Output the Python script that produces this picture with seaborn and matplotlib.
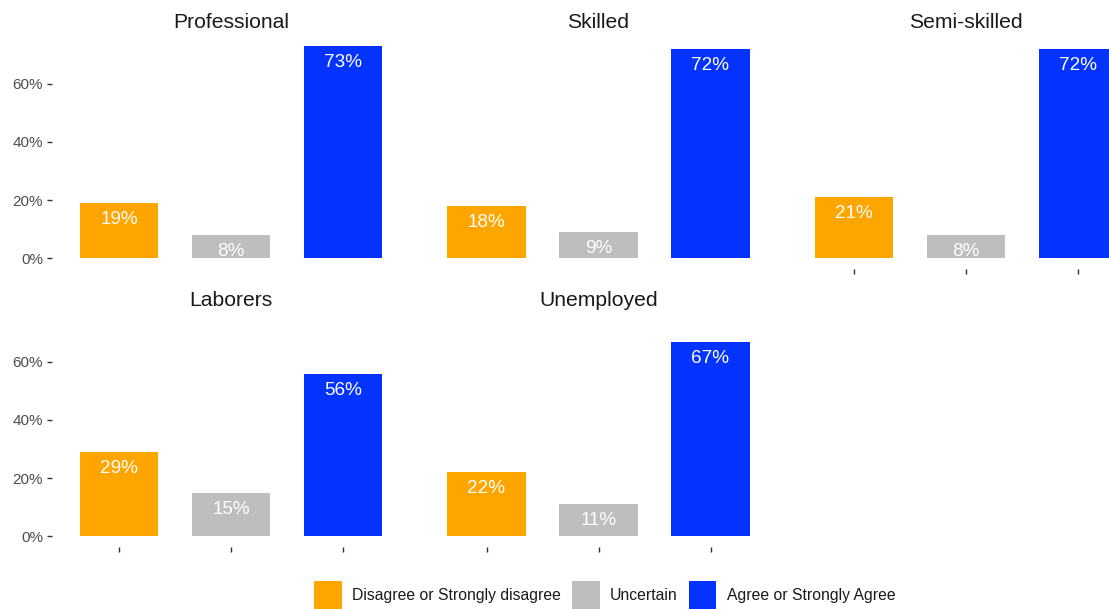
import matplotlib
matplotlib.use("Agg")
import matplotlib.pyplot as plt
from matplotlib.patches import Patch
import seaborn as sns
import pandas as pd

# Survey answers by occupational group (percent of respondents)
occupations = ["Professional", "Skilled", "Semi-skilled", "Laborers", "Unemployed"]
responses = ["Disagree or Strongly disagree", "Uncertain", "Agree or Strongly Agree"]
disagree = [19, 18, 21, 29, 22]
uncertain = [8, 9, 8, 15, 11]
agree = [73, 72, 72, 56, 67]
y_ticks = [0, 20, 40, 60]
y_tick_labels = ["0%", "20%", "40%", "60%"]

colors = {
    "Disagree or Strongly disagree": "#FFA500",
    "Uncertain": "#BEBEBE",
    "Agree or Strongly Agree": "#0433FF",
}

rows = []
for occ, d, u, a in zip(occupations, disagree, uncertain, agree):
    for resp, v in zip(responses, (d, u, a)):
        rows.append({"occupation": occ, "response": resp, "pct": v})
df = pd.DataFrame(rows)

sns.set_theme(style="white")
plt.rcParams["font.family"] = ["Liberation Sans", "DejaVu Sans"]

W, H = 1109, 609
fig = plt.figure(figsize=(W / 100, H / 100), dpi=100)
fig.patch.set_facecolor("white")

# facet grid geometry (pixels)
panel_w = 358.4
panel_h = 232.9
col_left = [51.8, 419.3, 786.8]
row_top = [35.7, 313.7]
ncol = 3

ymax = df["pct"].max()
ylim = (-0.05 * ymax, 1.05 * ymax)

for i, occ in enumerate(occupations):
    r, c = divmod(i, ncol)
    ax = fig.add_axes([
        col_left[c] / W,
        1 - (row_top[r] + panel_h) / H,
        panel_w / W,
        panel_h / H,
    ])
    sub = df[df["occupation"] == occ]
    sns.barplot(
        data=sub, x="response", y="pct", hue="response", order=responses,
        hue_order=responses, palette=colors, width=0.7, errorbar=None,
        saturation=1, linewidth=0, legend=False, ax=ax,
    )
    ax.set_xlim(-0.6, 2.6)
    ax.set_ylim(*ylim)
    ax.set_xlabel("")
    ax.set_ylabel("")
    for s in ax.spines.values():
        s.set_visible(False)
    ax.set_facecolor("white")

    # value labels inside the bars
    for j, resp in enumerate(responses):
        v = sub.loc[sub["response"] == resp, "pct"].iloc[0]
        ax.annotate(f"{v}%", (j, v), xytext=(0, -5.8), textcoords="offset points",
                    ha="center", va="top", color="white", fontsize=13.6)

    ax.set_title(occ, fontsize=15.2, color="#1A1A1A", pad=5.6)

    # y axis only on the first column
    ax.set_yticks(y_ticks)
    if c == 0:
        ax.set_yticklabels(y_tick_labels)
        ax.tick_params(axis="y", left=True, length=3.4, width=1.0, color="#333333",
                       labelsize=11, labelcolor="#4D4D4D", pad=3)
    else:
        ax.tick_params(axis="y", left=False, labelleft=False)

    # x ticks (unlabelled) at the bottom of each column
    ax.set_xticks(range(len(responses)))
    ax.set_xticklabels([""] * len(responses))
    if i + ncol >= len(occupations):
        ax.tick_params(axis="x", bottom=True, length=3.4, width=1.0, color="#333333")
    else:
        ax.tick_params(axis="x", bottom=False)

handles = [Patch(facecolor=colors[r], edgecolor="none", label=r) for r in responses]
fig.legend(handles=handles, loc="upper left", bbox_to_anchor=(314 / W, 1 - 581 / H),
           ncol=3, frameon=False, fontsize=11.3, handlelength=1.78, handleheight=2.36,
           handletextpad=0.64, columnspacing=0.7, borderpad=0, borderaxespad=0,
           labelcolor="#1A1A1A")

fig.savefig("out.png", dpi=100, facecolor="white")
